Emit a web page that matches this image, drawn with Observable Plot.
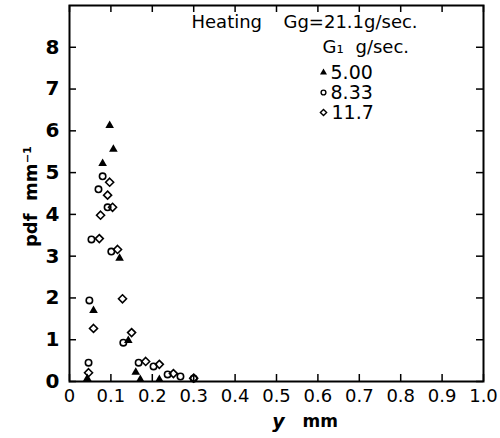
<!DOCTYPE html>
<html>
<head>
<meta charset="utf-8">
<script src="https://cdn.jsdelivr.net/npm/d3@7"></script>
<script src="https://cdn.jsdelivr.net/npm/@observablehq/plot@0.6"></script>
<style>
  body { margin: 0; background: #fff; }
  #chart { width: 500px; height: 438px; }
</style>
</head>
<body>
<div id="chart"></div>
<script>
// Droplet-size pdf for heating runs, gas rate Gg = 21.1 g/sec
const y500 = [0.043, 0.058, 0.080, 0.097, 0.106, 0.121, 0.142, 0.160, 0.171, 0.217];
const pdf500 = [0.07, 1.70, 5.22, 6.13, 5.56, 2.95, 0.98, 0.22, 0.05, 0.05];

const y833 = [0.046, 0.048, 0.053, 0.070, 0.080, 0.092, 0.101, 0.130, 0.167, 0.203, 0.237, 0.268, 0.300];
const pdf833 = [0.45, 1.94, 3.40, 4.60, 4.91, 4.17, 3.11, 0.93, 0.45, 0.36, 0.17, 0.12, 0.07];

const y117 = [0.046, 0.058, 0.072, 0.075, 0.092, 0.097, 0.104, 0.116, 0.128, 0.150, 0.184, 0.217, 0.251, 0.300];
const pdf117 = [0.21, 1.27, 3.42, 3.98, 4.46, 4.77, 4.17, 3.16, 1.98, 1.17, 0.48, 0.41, 0.19, 0.08];

const xTicks = [0, 0.1, 0.2, 0.3, 0.4, 0.5, 0.6, 0.7, 0.8, 0.9, 1.0];
const xTickLabels = ["0", "0.1", "0.2", "0.3", "0.4", "0.5", "0.6", "0.7", "0.8", "0.9", "1.0"];
const yTicks = [0, 1, 2, 3, 4, 5, 6, 7, 8];

const seriesLabels = ["5.00", "8.33", "11.7"];

const toRows = (xs, ys) => xs.map((x, i) => ({x, y: ys[i]}));
const rows500 = toRows(y500, pdf500);
const rows833 = toRows(y833, pdf833);
const rows117 = toRows(y117, pdf117);

const font = "DejaVu Sans";
const innerW = 500 - 69 - 17;
const innerH = 438 - 5 - 57;
const tickLen = 7;

const chart = Plot.plot({
  width: 500,
  height: 438,
  marginLeft: 69,
  marginRight: 17,
  marginTop: 5,
  marginBottom: 57,
  style: {fontFamily: font, color: "#000", background: "#fff"},
  x: {domain: [0, 1], axis: null},
  y: {domain: [0, 9], axis: null},
  marks: [
    // inward ticks on all four sides
    Plot.tickX(xTicks, {x: d => d, insetTop: innerH - tickLen, strokeWidth: 1.5}),
    Plot.tickX(xTicks, {x: d => d, insetBottom: innerH - tickLen, strokeWidth: 1.5}),
    Plot.tickY(yTicks, {y: d => d, insetRight: innerW - tickLen, strokeWidth: 1.5}),
    Plot.tickY(yTicks, {y: d => d, insetLeft: innerW - tickLen, strokeWidth: 1.5}),
    Plot.frame({strokeWidth: 2}),
    // tick labels
    Plot.axisX(xTicks, {
      tickSize: 0, tickPadding: 8, fontSize: 18, label: null,
      tickFormat: d => xTickLabels[xTicks.indexOf(d)]
    }),
    Plot.axisY(yTicks, {
      tickSize: 0, tickPadding: 10, fontSize: 20, fontWeight: "bold", label: null,
      tickFormat: d => String(d)
    }),
    // axis titles
    Plot.text(["pdf  mm\u207B\u00B9"], {
      frameAnchor: "left", rotate: -90, dx: -38, dy: 3,
      fontSize: 18, fontWeight: "bold", textAnchor: "middle", lineAnchor: "middle"
    }),
    Plot.text(["y"], {
      frameAnchor: "bottom", dx: 2, dy: 40, fontSize: 19, fontStyle: "italic", fontWeight: "bold",
      textAnchor: "middle", lineAnchor: "middle"
    }),
    Plot.text(["mm"], {
      frameAnchor: "bottom", dx: 26, dy: 40, fontSize: 17, fontWeight: "bold",
      textAnchor: "start", lineAnchor: "middle"
    }),
    // data
    Plot.dot(rows500, {x: "x", y: "y", symbol: "triangle", r: 3.2, fill: "#000"}),
    Plot.dot(rows833, {x: "x", y: "y", symbol: "circle", r: 3.2, stroke: "#000", strokeWidth: 1.6, fill: "none"}),
    Plot.dot(rows117, {x: "x", y: "y", symbol: "diamond2", r: 3.6, stroke: "#000", strokeWidth: 1.6, fill: "none"}),
    // legend
    Plot.text(["Heating"], {frameAnchor: "top-left", dx: 122, dy: 17, fontSize: 18, textAnchor: "start", lineAnchor: "middle"}),
    Plot.text(["Gg=21.1g/sec."], {frameAnchor: "top-left", dx: 214, dy: 17, fontSize: 18, textAnchor: "start", lineAnchor: "middle"}),
    Plot.text(["G\u2081"], {frameAnchor: "top-left", dx: 253, dy: 42, fontSize: 18, textAnchor: "start", lineAnchor: "middle"}),
    Plot.text(["g/sec."], {frameAnchor: "top-left", dx: 286, dy: 42, fontSize: 18, textAnchor: "start", lineAnchor: "middle"}),
    Plot.dot([0], {frameAnchor: "top-left", dx: 254, dy: 67, symbol: "triangle", r: 2.6, fill: "#000"}),
    Plot.dot([0], {frameAnchor: "top-left", dx: 254, dy: 87, symbol: "circle", r: 2.4, stroke: "#000", strokeWidth: 1.4, fill: "none"}),
    Plot.dot([0], {frameAnchor: "top-left", dx: 254, dy: 107, symbol: "diamond2", r: 2.8, stroke: "#000", strokeWidth: 1.4, fill: "none"}),
    Plot.text([seriesLabels[0]], {frameAnchor: "top-left", dx: 261, dy: 67, fontSize: 19, textAnchor: "start", lineAnchor: "middle"}),
    Plot.text([seriesLabels[1]], {frameAnchor: "top-left", dx: 261, dy: 87, fontSize: 19, textAnchor: "start", lineAnchor: "middle"}),
    Plot.text([seriesLabels[2]], {frameAnchor: "top-left", dx: 262, dy: 107, fontSize: 19, textAnchor: "start", lineAnchor: "middle"})
  ]
});

document.getElementById("chart").appendChild(chart);
</script>
</body>
</html>
